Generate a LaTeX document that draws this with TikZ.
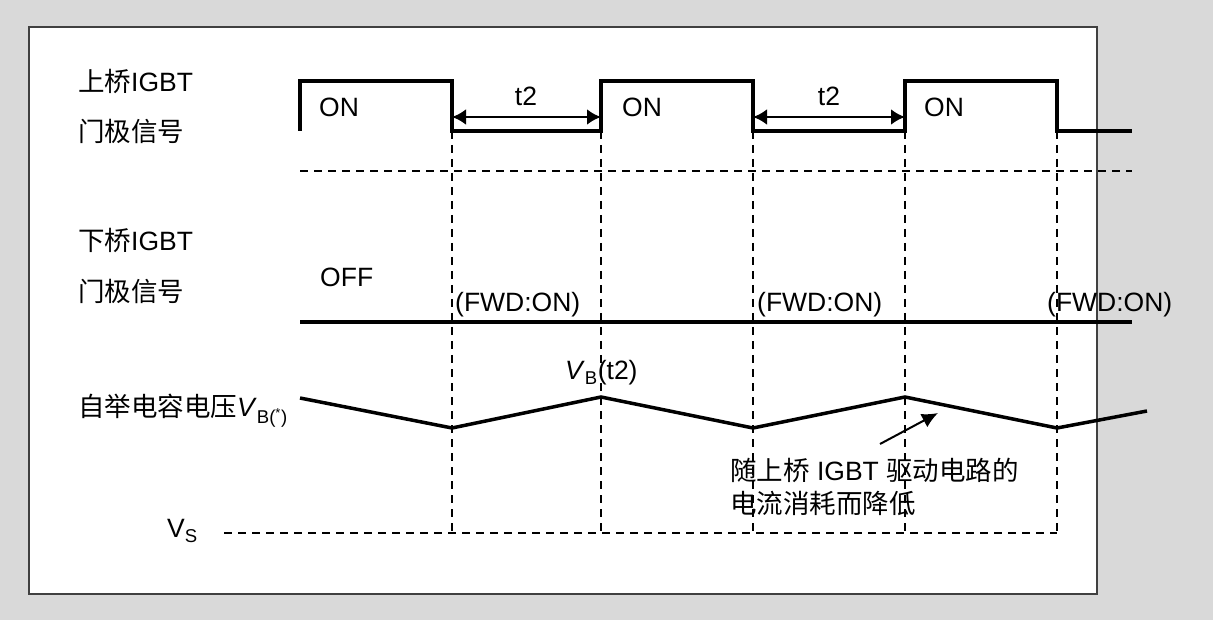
\documentclass[tikz,border=0pt]{standalone}
\usepackage{fontspec}
\setmainfont{Liberation Sans}
\newfontfamily\cjk{Noto Sans CJK SC}
\usetikzlibrary{arrows.meta}

\definecolor{bggray}{RGB}{217,217,217}
\definecolor{edgegray}{RGB}{64,64,64}

\begin{document}
\begin{tikzpicture}[x=1pt,y=-1pt,
	wave/.style={line width=3.5pt},
	guide/.style={line width=1.3pt, dash pattern=on 8pt off 6pt},
	lbl/.style={anchor=west, inner sep=0pt, font=\fontsize{26.5}{33}\selectfont},
	span/.style={{Latex[length=14pt,width=16pt]}-{Latex[length=14pt,width=16pt]}, line width=2.8pt},
	pointer/.style={-{Latex[length=16pt,width=15pt]}, line width=2pt}]
	%Frame
		\fill[bggray] (0,0) rectangle (1213,620);
		\draw[fill=white, draw=edgegray, line width=1.5pt] (29,27) rectangle (1097,594);
	%Row names
		\node[lbl] (hiname) at (78,81) {{\cjk 上桥}IGBT};
		\node[lbl] (higate) at (78,131) {\cjk 门极信号};
		\node[lbl] (loname) at (78,240) {{\cjk 下桥}IGBT};
		\node[lbl] (logate) at (78,291) {\cjk 门极信号};
		\node[lbl] (vbname) at (78,411) {{\cjk 自举电容电压}\textit{V}\textsubscript{B(\textsuperscript{*})}};
		\node[lbl] (vsname) at (167,531) {V\textsubscript{S}};
	%Upper IGBT gate signal
		\draw[wave] (300,131) -- (300,81) -- (452,81) -- (452,131) -- (601,131) -- (601,81) -- (753,81) -- (753,131) -- (905,131) -- (905,81) -- (1057,81) -- (1057,131) -- (1132,131);
		\node[lbl] (on1) at (319,107) {ON};
		\node[lbl] (on2) at (622,107) {ON};
		\node[lbl] (on3) at (924,107) {ON};
	%t2 spans
		\coordinate (s1a) at (452,117);
		\coordinate (s1b) at (601,117);
		\coordinate (s2a) at (753,117);
		\coordinate (s2b) at (905,117);
		\draw[span] (s1a) -- (s1b);
		\draw[span] (s2a) -- (s2b);
		\node[lbl, anchor=center] (t2a) at (526,96) {t2};
		\node[lbl, anchor=center] (t2b) at (829,96) {t2};
	%Separator
		\draw[guide] (300,171) -- (1132,171);
	%Edges
		\foreach \x in {452,601,753,905,1057}
			\draw[guide] (\x,131) -- (\x,533);
	%Lower IGBT gate signal
		\draw[wave] (300,322) -- (1132,322);
		\node[lbl] (off) at (320,277) {OFF};
		\node[lbl] (fwd1) at (455,305) {(FWD:ON)};
		\node[lbl] (fwd2) at (757,305) {(FWD:ON)};
		\node[lbl] (fwd3) at (1047,305) {(FWD:ON)};
	%Bootstrap voltage
		\draw[wave] (300,398) -- (452,428) -- (601,397) -- (753,428) -- (905,397) -- (1057,428) -- (1147,411);
		\node[lbl] (vbpeak) at (565,373) {\textit{V}\textsubscript{B}(t2)};
	%Vs level
		\draw[guide] (224,533) -- (1057,533);
	%Note
		\node[lbl, align=left] (note) at (730,487) {{\cjk 随上桥} IGBT {\cjk 驱动电路的}\\{\cjk 电流消耗而降低}};
		\coordinate (drop) at (938,413);
		\draw[pointer] (880,444) -- (drop);
\end{tikzpicture}
\end{document}
